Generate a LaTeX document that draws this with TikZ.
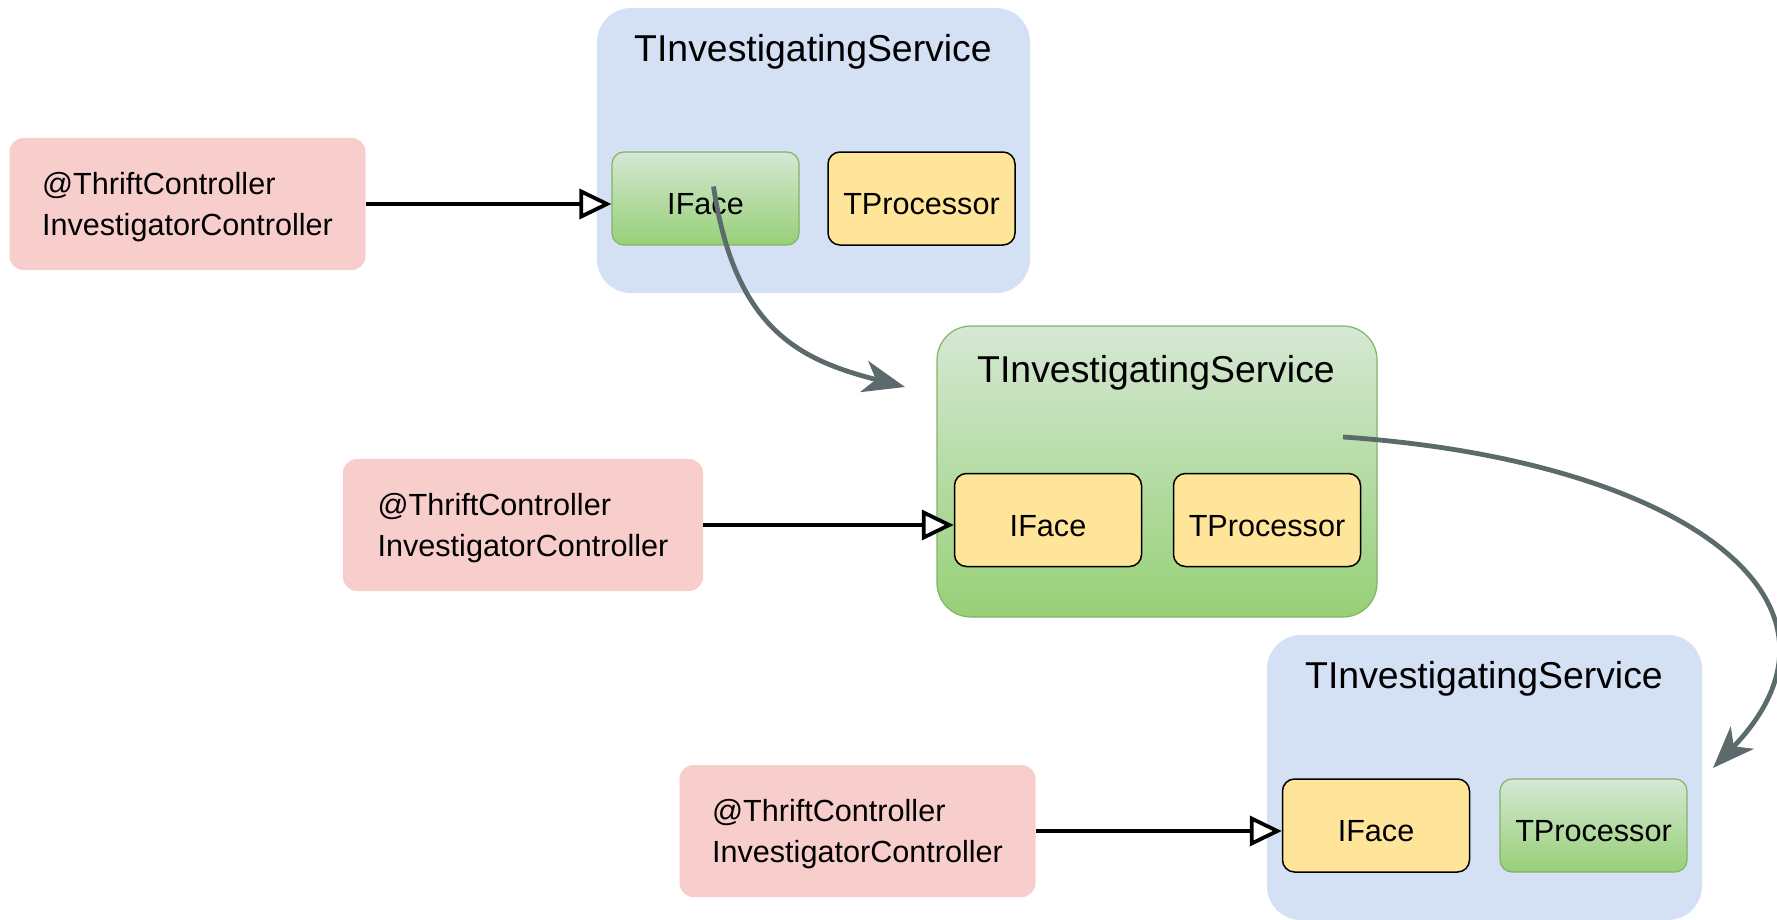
\documentclass[tikz,border=0pt]{standalone}
\usepackage{fontspec}
\setmainfont{Liberation Sans}
\usepackage{tikz}
\usetikzlibrary{arrows.meta}
\definecolor{ctrlpink}{HTML}{F8CECC}
\definecolor{svcblue}{HTML}{D4E1F5}
\definecolor{partyellow}{HTML}{FFE599}
\definecolor{greentop}{HTML}{D5E8D4}
\definecolor{greenbot}{HTML}{97D077}
\definecolor{greenline}{HTML}{82B366}
\definecolor{flowgrey}{HTML}{5B6B6C}
\tikzset{
	ctrl/.style={fill=ctrlpink, rounded corners=7pt, minimum width=178pt, minimum height=66pt, inner sep=0pt, align=left, text depth=0pt, font=\fontsize{15.3}{20.5}\selectfont},
	svc/.style={fill=svcblue, rounded corners=17pt},
	svcgreen/.style={svc, draw=greenline, line width=0.6pt, top color=greentop, bottom color=greenbot},
	svctitle/.style={anchor=base, inner sep=0pt, font=\fontsize{18.7}{22}\selectfont},
	part/.style={draw, fill=partyellow, line width=0.75pt, rounded corners=6pt, minimum width=93.5pt, minimum height=46.5pt, text height=16pt, text depth=0pt, font=\fontsize{15.3}{18}\selectfont},
	partgreen/.style={part, draw=greenline, line width=0.6pt, top color=greentop, bottom color=greenbot},
	call/.style={line width=1.9pt, -{Triangle[fill=white, length=16pt, width=15pt]}},
	flow/.style={draw=flowgrey, line width=2.4pt, -{Stealth[length=21pt, width=16pt, inset=6pt]}}
}

\begin{document}
\begin{tikzpicture}[x=0.5pt, y=-0.5pt]
	%%%%% START %%%%%
	\path[use as bounding box, fill=white] (0,0) rectangle (1777,920);
	
	% first service
	\node[svc, minimum width=216.5pt, minimum height=142.5pt] (svc1) at (813.5,150.5) {};
	\node[svctitle] (title1) at (813,62) {TInvestigatingService};
	\node[partgreen] (iface1) at (705.5,198.5) {IFace};
	\node[part] (proc1) at (921.5,198.5) {TProcessor};
	\node[ctrl] (ctrl1) at (187.5,204) {@ThriftController\\InvestigatorController};
	\draw[call] (ctrl1.east) -- (ctrl1.east -| iface1.west);
	
	% second service
	\node[svcgreen, minimum width=220pt, minimum height=145.5pt] (svc2) at (1157,471.5) {};
	\node[svctitle] (title2) at (1156,382) {TInvestigatingService};
	\node[part] (iface2) at (1048,520) {IFace};
	\node[part] (proc2) at (1267,520) {TProcessor};
	\node[ctrl, minimum width=180pt] (ctrl2) at (523,525) {@ThriftController\\InvestigatorController};
	\draw[call] (ctrl2.east) -- (ctrl2.east -| iface2.west);
	
	% third service
	\node[svc, minimum width=217.5pt, minimum height=142.5pt] (svc3) at (1484.5,777.5) {};
	\node[svctitle] (title3) at (1484,688) {TInvestigatingService};
	\node[part] (iface3) at (1376,825.5) {IFace};
	\node[partgreen] (proc3) at (1593.5,825.5) {TProcessor};
	\node[ctrl] (ctrl3) at (857.5,831) {@ThriftController\\InvestigatorController};
	\draw[call] (ctrl3.east) -- (ctrl3.east -| iface3.west);
	
	% hand-over arrows
	\coordinate (from1) at ([xshift=4pt, yshift=6pt]iface1.center);
	\coordinate (to1) at (905,387);
	\draw[flow] (from1) .. controls (735,330) and (800,360) .. (to1);
	
	\coordinate (from2) at (1343,437);
	\coordinate (to2) at (1713,768);
	\draw[flow] (from2) .. controls (1680,460) and (1875,600) .. (to2);
	
	%%%%% END %%%%%
\end{tikzpicture}
\end{document}
